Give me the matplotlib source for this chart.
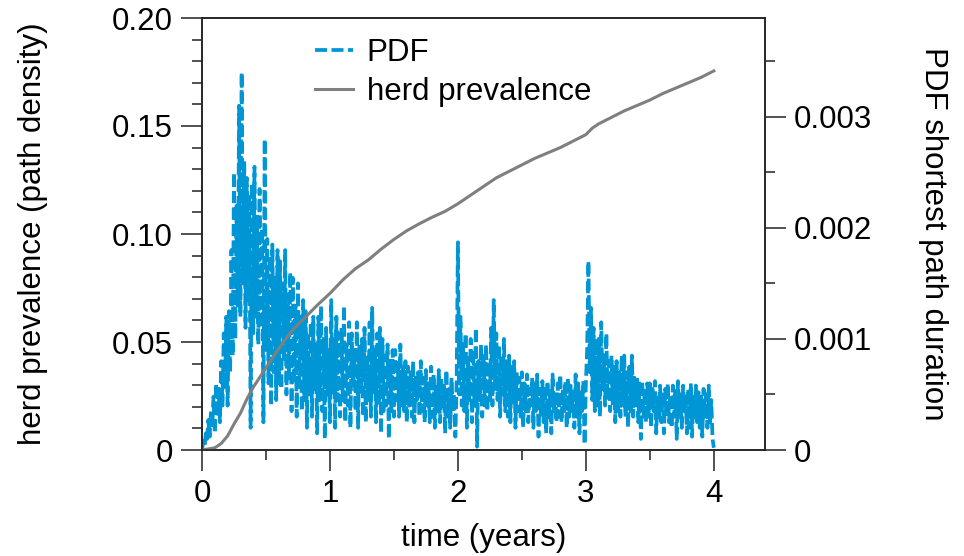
import numpy as np
import matplotlib.pyplot as plt
from matplotlib.ticker import MultipleLocator

# herd prevalence (left axis)
t_herd = [0, 0.1, 0.15, 0.2, 0.25, 0.3, 0.35, 0.4, 0.5, 0.6, 0.7, 0.8, 0.9,
          1.0, 1.1, 1.2, 1.3, 1.4, 1.5, 1.6, 1.7, 1.8, 1.9, 2.0, 2.1, 2.2,
          2.3, 2.4, 2.5, 2.6, 2.7, 2.8, 2.9, 3.0, 3.05, 3.1, 3.2, 3.3, 3.4,
          3.5, 3.6, 3.7, 3.8, 3.9, 4.0]
herd = [0, 0.001, 0.003, 0.0065, 0.012, 0.017, 0.0235, 0.029, 0.038, 0.047,
        0.055, 0.061, 0.067, 0.0725, 0.0787, 0.084, 0.088, 0.093, 0.0975,
        0.1015, 0.1048, 0.1078, 0.1105, 0.114, 0.118, 0.122, 0.126, 0.129,
        0.132, 0.135, 0.1375, 0.140, 0.143, 0.146, 0.149, 0.151, 0.154,
        0.157, 0.1595, 0.162, 0.165, 0.1675, 0.170, 0.1725, 0.1755]

# PDF of shortest path duration (right axis), in units of 1e-3, every 0.01 yr
pdf_milli = [
    0.00, 0.08, 0.03, 0.15, 0.10, 0.27, 0.12, 0.35, 0.20, 0.48,
    0.15, 0.60, 0.30, 0.55, 0.25, 0.80, 0.40, 1.05, 0.55, 1.20,
    0.40, 1.25, 0.70, 1.80, 0.85, 2.50, 1.00, 2.20, 1.30, 3.10,
    1.20, 3.40, 1.50, 2.60, 1.10, 2.45, 1.35, 2.30, 0.20, 2.40,
    1.05, 2.55, 1.20, 2.10, 0.95, 2.35, 1.10, 2.00, 0.25, 2.80,
    0.90, 1.90, 0.60, 1.75, 0.40, 1.85, 0.70, 1.55, 0.45, 1.80,
    0.60, 1.70, 0.55, 1.50, 0.80, 1.80, 0.50, 1.40, 0.65, 1.60,
    0.35, 1.55, 0.60, 1.30, 0.30, 1.50, 0.55, 1.20, 0.35, 1.35,
    0.45, 1.25, 0.20, 1.05, 0.50, 1.15, 0.30, 1.20, 0.55, 0.95,
    0.15, 1.20, 0.45, 1.30, 0.35, 1.00, 0.10, 1.10, 0.50, 0.90,
    0.25, 1.35, 0.50, 1.00, 0.20, 1.20, 0.45, 1.05, 0.30, 1.10,
    0.45, 1.30, 0.25, 0.95, 0.40, 1.15, 0.20, 1.05, 0.55, 0.90,
    0.35, 1.15, 0.20, 0.95, 0.50, 1.00, 0.30, 1.10, 0.25, 0.85,
    0.45, 1.15, 0.30, 1.28, 0.50, 0.90, 0.25, 1.05, 0.40, 1.10,
    0.15, 1.00, 0.35, 0.85, 0.40, 0.95, 0.10, 0.80, 0.35, 0.90,
    0.30, 0.90, 0.45, 0.80, 0.30, 0.95, 0.40, 0.75, 0.35, 0.80,
    0.25, 0.75, 0.40, 0.70, 0.30, 0.80, 0.25, 0.65, 0.45, 0.70,
    0.30, 0.80, 0.35, 0.65, 0.25, 0.72, 0.40, 0.60, 0.25, 0.75,
    0.30, 0.68, 0.20, 0.60, 0.35, 0.72, 0.25, 0.65, 0.40, 0.60,
    0.15, 0.72, 0.30, 0.55, 0.20, 0.65, 0.35, 0.50, 0.12, 0.60,
    1.87, 0.50, 1.20, 0.40, 0.95, 0.35, 1.05, 0.20, 0.85, 0.45,
    1.00, 0.25, 0.90, 0.40, 1.10, 0.03, 0.80, 0.45, 0.95, 0.30,
    0.85, 0.40, 0.95, 0.35, 0.80, 0.45, 1.10, 0.40, 1.35, 0.55,
    1.05, 0.45, 0.95, 0.30, 0.85, 0.50, 1.00, 0.35, 0.80, 0.30,
    0.85, 0.25, 0.75, 0.40, 0.80, 0.20, 0.70, 0.35, 0.65, 0.30,
    0.70, 0.20, 0.60, 0.35, 0.68, 0.25, 0.55, 0.40, 0.65, 0.20,
    0.60, 0.35, 0.68, 0.12, 0.55, 0.30, 0.62, 0.25, 0.58, 0.15,
    0.62, 0.30, 0.55, 0.15, 0.68, 0.35, 0.50, 0.25, 0.60, 0.30,
    0.68, 0.25, 0.55, 0.35, 0.62, 0.20, 0.65, 0.30, 0.58, 0.35,
    0.55, 0.20, 0.68, 0.30, 0.60, 0.15, 0.55, 0.35, 0.62, 0.05,
    0.60, 0.90, 1.70, 0.70, 1.28, 0.45, 1.10, 0.35, 1.00, 0.40,
    1.00, 0.30, 1.15, 0.55, 0.85, 0.40, 1.05, 0.45, 0.80, 0.35,
    0.85, 0.40, 0.75, 0.25, 0.80, 0.35, 0.70, 0.30, 0.85, 0.40,
    0.85, 0.30, 0.70, 0.20, 0.75, 0.35, 0.85, 0.30, 0.65, 0.40,
    0.65, 0.25, 0.60, 0.10, 0.62, 0.30, 0.55, 0.25, 0.60, 0.30,
    0.60, 0.20, 0.55, 0.35, 0.62, 0.15, 0.50, 0.30, 0.58, 0.25,
    0.50, 0.15, 0.55, 0.30, 0.60, 0.25, 0.50, 0.20, 0.58, 0.30,
    0.55, 0.10, 0.62, 0.30, 0.50, 0.20, 0.58, 0.35, 0.48, 0.15,
    0.55, 0.20, 0.60, 0.12, 0.50, 0.30, 0.58, 0.25, 0.52, 0.20,
    0.48, 0.12, 0.55, 0.30, 0.50, 0.20, 0.58, 0.25, 0.45, 0.10,
    0.02]
t_pdf = np.arange(len(pdf_milli)) * 0.01
pdf = np.array(pdf_milli) / 1000

plt.rcParams['font.family'] = ['Liberation Sans', 'DejaVu Sans']
plt.rcParams['font.size'] = 22.5

blue = '#0096d6'
grey = '#7f7f7f'
ink = '#222222'

fig = plt.figure(figsize=(9.64, 5.56), dpi=100)
ax = fig.add_axes([202/964, 106/556, 563/964, 432/556])
ax2 = ax.twinx()
ax.set_zorder(ax2.get_zorder() + 1)
ax.patch.set_visible(False)

l_pdf, = ax2.plot(t_pdf, pdf, color=blue, lw=2.7, dashes=(3.2, 1.2), label='PDF')
l_herd, = ax.plot(t_herd, herd, color=grey, lw=2.2, label='herd prevalence')

ax.set_xlim(0, 4.4)
ax.set_ylim(0, 0.2)
ax2.set_ylim(0, 0.00389)

ax.xaxis.set_major_locator(MultipleLocator(1))
ax.xaxis.set_minor_locator(MultipleLocator(0.5))
ax.yaxis.set_major_locator(MultipleLocator(0.05))
ax.yaxis.set_minor_locator(MultipleLocator(0.01))
ax2.yaxis.set_major_locator(MultipleLocator(0.001))
ax2.yaxis.set_minor_locator(MultipleLocator(0.0005))

ax.yaxis.set_major_formatter(plt.FuncFormatter(lambda v, p: '0' if v == 0 else '%.2f' % v))
ax2.yaxis.set_major_formatter(plt.FuncFormatter(lambda v, p: '0' if v == 0 else '%.3f' % v))
ax.xaxis.set_major_formatter(plt.FuncFormatter(lambda v, p: '%d' % v))

for a in (ax, ax2):
    a.tick_params(which='major', direction='out', length=15, width=1.1, color=ink, pad=6)
    a.tick_params(which='minor', direction='out', length=7.5, width=1.1, color=ink)
    for s in a.spines.values():
        s.set_color(ink)
        s.set_linewidth(1.1)
ax.tick_params(axis='y', which='both', right=False)
ax.tick_params(axis='x', which='both', top=False)

ax.set_xlabel('time (years)', labelpad=10)
ax.set_ylabel('herd prevalence (path density)', labelpad=46)
ax2.set_ylabel('PDF shortest path duration', rotation=270, labelpad=54)

fig.legend(handles=[l_pdf, l_herd], loc='upper left',
           bbox_to_anchor=(315/964, 1 - 38/556), frameon=False,
           borderpad=0, borderaxespad=0, handlelength=1.2,
           handletextpad=0.45, labelspacing=0.3)

fig.savefig('out.png', dpi=100)
